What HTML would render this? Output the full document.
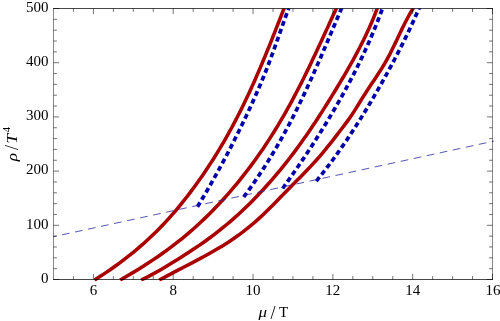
<!DOCTYPE html>
<html><head><meta charset="utf-8"><style>
html,body{margin:0;padding:0;background:#fff;overflow:hidden;width:500px;height:321px}
svg{display:block;will-change:transform}
text{font-family:"Liberation Serif",serif;font-size:15px;fill:#000}
.r{fill:none;stroke:#aa0000;stroke-width:3.55;stroke-linejoin:round}
.b{fill:none;stroke:#0000aa;stroke-width:3.7;stroke-dasharray:5 3.35}
</style></head><body>
<svg width="500" height="321" viewBox="0 0 500 321">
<rect width="500" height="321" fill="#fff"/>
<defs><clipPath id="c"><rect x="53.5" y="8.5" width="439.0" height="273.0"/></clipPath></defs>
<g clip-path="url(#c)">
<path class="r" d="M285.59,4.50 L284.02,8.50 L282.68,11.94 L281.34,15.37 L280.00,18.81 L278.65,22.25 L277.30,25.68 L275.95,29.12 L274.60,32.56 L273.23,35.99 L271.87,39.43 L270.49,42.87 L269.11,46.30 L267.72,49.74 L266.31,53.18 L264.90,56.61 L263.47,60.05 L262.04,63.49 L260.58,66.92 L259.12,70.36 L257.64,73.80 L256.14,77.23 L254.62,80.67 L253.09,84.11 L251.54,87.54 L249.97,90.98 L248.37,94.42 L246.76,97.85 L245.12,101.29 L243.46,104.73 L241.77,108.16 L240.06,111.60 L238.32,115.04 L236.55,118.47 L234.76,121.91 L232.94,125.35 L231.09,128.78 L229.20,132.22 L227.29,135.66 L225.34,139.09 L223.36,142.53 L221.34,145.97 L219.29,149.41 L217.20,152.84 L215.07,156.28 L212.91,159.72 L210.70,163.15 L208.46,166.59 L206.18,170.03 L203.85,173.46 L201.48,176.90 L199.07,180.34 L196.61,183.77 L194.11,187.21 L191.56,190.65 L188.96,194.08 L186.32,197.52 L183.61,200.96 L180.85,204.39 L178.02,207.83 L175.12,211.27 L172.15,214.70 L169.09,218.14 L165.95,221.58 L162.71,225.01 L159.39,228.45 L155.96,231.89 L152.42,235.32 L148.78,238.76 L145.02,242.20 L141.14,245.63 L137.13,249.07 L132.99,252.51 L128.72,255.94 L124.31,259.38 L119.75,262.82 L115.04,266.25 L110.17,269.69 L105.15,273.13 L99.95,276.56 L94.59,280.00"/>
<path class="r" d="M338.18,4.50 L336.33,8.50 L334.74,11.94 L333.15,15.37 L331.56,18.81 L329.98,22.25 L328.41,25.68 L326.83,29.12 L325.25,32.56 L323.67,35.99 L322.09,39.43 L320.50,42.87 L318.91,46.30 L317.31,49.74 L315.70,53.18 L314.09,56.61 L312.46,60.05 L310.82,63.49 L309.17,66.92 L307.51,70.36 L305.83,73.80 L304.13,77.23 L302.42,80.67 L300.69,84.11 L298.93,87.54 L297.16,90.98 L295.36,94.42 L293.54,97.85 L291.70,101.29 L289.83,104.73 L287.93,108.16 L286.00,111.60 L284.04,115.04 L282.05,118.47 L280.03,121.91 L277.98,125.35 L275.89,128.78 L273.76,132.22 L271.60,135.66 L269.40,139.09 L267.16,142.53 L264.88,145.97 L262.56,149.41 L260.19,152.84 L257.78,156.28 L255.32,159.72 L252.82,163.15 L250.26,166.59 L247.66,170.03 L245.01,173.46 L242.31,176.90 L239.55,180.34 L236.74,183.77 L233.87,187.21 L230.95,190.65 L227.97,194.08 L224.92,197.52 L221.81,200.96 L218.62,204.39 L215.36,207.83 L212.02,211.27 L208.59,214.70 L205.06,218.14 L201.44,221.58 L197.72,225.01 L193.88,228.45 L189.94,231.89 L185.88,235.32 L181.70,238.76 L177.39,242.20 L172.95,245.63 L168.37,249.07 L163.65,252.51 L158.78,255.94 L153.76,259.38 L148.59,262.82 L143.25,266.25 L137.74,269.69 L132.07,273.13 L126.21,276.56 L120.18,280.00"/>
<path class="r" d="M378.69,4.50 L377.19,8.50 L375.89,11.94 L374.55,15.37 L373.15,18.81 L371.71,22.25 L370.21,25.68 L368.68,29.12 L367.09,32.56 L365.47,35.99 L363.80,39.43 L362.09,42.87 L360.35,46.30 L358.56,49.74 L356.75,53.18 L354.90,56.61 L353.02,60.05 L351.11,63.49 L349.17,66.92 L347.21,70.36 L345.22,73.80 L343.20,77.23 L341.17,80.67 L339.11,84.11 L337.04,87.54 L334.95,90.98 L332.85,94.42 L330.73,97.85 L328.60,101.29 L326.45,104.73 L324.29,108.16 L322.10,111.60 L319.90,115.04 L317.67,118.47 L315.42,121.91 L313.14,125.35 L310.83,128.78 L308.49,132.22 L306.12,135.66 L303.71,139.09 L301.26,142.53 L298.78,145.97 L296.26,149.41 L293.70,152.84 L291.09,156.28 L288.44,159.72 L285.73,163.15 L282.98,166.59 L280.18,170.03 L277.32,173.46 L274.41,176.90 L271.44,180.34 L268.41,183.77 L265.32,187.21 L262.17,190.65 L258.95,194.08 L255.67,197.52 L252.30,200.96 L248.86,204.39 L245.33,207.83 L241.70,211.27 L237.97,214.70 L234.13,218.14 L230.18,221.58 L226.11,225.01 L221.91,228.45 L217.58,231.89 L213.11,235.32 L208.49,238.76 L203.72,242.20 L198.79,245.63 L193.70,249.07 L188.44,252.51 L183.04,255.94 L177.60,259.38 L172.12,262.82 L166.52,266.25 L160.71,269.69 L154.60,273.13 L148.11,276.56 L141.15,280.00"/>
<path class="r" d="M415.38,4.50 L413.00,8.50 L410.95,11.94 L409.00,15.37 L407.14,18.81 L405.34,22.25 L403.61,25.68 L401.93,29.12 L400.28,32.56 L398.64,35.99 L397.02,39.43 L395.38,42.87 L393.73,46.30 L392.04,49.74 L390.31,53.18 L388.51,56.61 L386.64,60.05 L384.69,63.49 L382.64,66.92 L380.50,70.36 L378.29,73.80 L376.03,77.23 L373.74,80.67 L371.44,84.11 L369.14,87.54 L366.87,90.98 L364.64,94.42 L362.47,97.85 L360.35,101.29 L358.25,104.73 L356.13,108.16 L353.97,111.60 L351.72,115.04 L349.35,118.47 L346.86,121.91 L344.28,125.35 L341.66,128.78 L339.04,132.22 L336.40,135.66 L333.75,139.09 L331.05,142.53 L328.32,145.97 L325.53,149.41 L322.68,152.84 L319.75,156.28 L316.73,159.72 L313.63,163.15 L310.43,166.59 L307.17,170.03 L303.86,173.46 L300.50,176.90 L297.11,180.34 L293.71,183.77 L290.31,187.21 L286.92,190.65 L283.56,194.08 L280.22,197.52 L276.88,200.96 L273.51,204.39 L270.10,207.83 L266.61,211.27 L263.03,214.70 L259.33,218.14 L255.50,221.58 L251.50,225.01 L247.31,228.45 L242.92,231.89 L238.30,235.32 L233.43,238.76 L228.28,242.20 L222.83,245.63 L217.09,249.07 L211.11,252.51 L204.91,255.94 L198.56,259.38 L192.08,262.82 L185.51,266.25 L178.91,269.69 L172.31,273.13 L165.76,276.56 L159.29,280.00"/>
<path class="b" d="M197.44,206.80 L198.96,204.29 L200.47,201.78 L201.97,199.27 L203.46,196.76 L204.93,194.25 L206.40,191.74 L207.85,189.23 L209.30,186.72 L210.73,184.21 L212.16,181.70 L213.57,179.19 L214.98,176.68 L216.37,174.17 L217.76,171.66 L219.13,169.15 L220.50,166.64 L221.86,164.13 L223.20,161.62 L224.54,159.11 L225.87,156.60 L227.19,154.09 L228.50,151.58 L229.81,149.07 L231.10,146.56 L232.39,144.05 L233.66,141.54 L234.93,139.03 L236.19,136.52 L237.45,134.01 L238.69,131.50 L239.93,128.99 L241.15,126.48 L242.38,123.97 L243.59,121.46 L244.79,118.95 L245.99,116.44 L247.17,113.93 L248.35,111.42 L249.52,108.91 L250.68,106.39 L251.83,103.88 L252.96,101.37 L254.09,98.86 L255.21,96.35 L256.32,93.84 L257.42,91.33 L258.51,88.82 L259.58,86.31 L260.64,83.80 L261.70,81.29 L262.74,78.78 L263.77,76.27 L264.78,73.76 L265.79,71.25 L266.78,68.74 L267.76,66.23 L268.72,63.72 L269.68,61.21 L270.62,58.70 L271.55,56.19 L272.47,53.68 L273.38,51.17 L274.28,48.66 L275.18,46.15 L276.07,43.64 L276.96,41.13 L277.84,38.62 L278.73,36.11 L279.61,33.60 L280.49,31.09 L281.37,28.58 L282.25,26.07 L283.14,23.56 L284.03,21.05 L284.92,18.54 L285.83,16.03 L286.74,13.52 L287.66,11.01 L288.58,8.50 L290.06,4.50"/>
<path class="b" d="M243.71,197.00 L245.47,194.61 L247.22,192.23 L248.94,189.84 L250.64,187.46 L252.33,185.07 L253.99,182.68 L255.63,180.30 L257.25,177.91 L258.85,175.53 L260.44,173.14 L262.00,170.75 L263.55,168.37 L265.08,165.98 L266.59,163.59 L268.08,161.21 L269.56,158.82 L271.01,156.44 L272.46,154.05 L273.88,151.66 L275.29,149.28 L276.69,146.89 L278.06,144.51 L279.43,142.12 L280.78,139.73 L282.11,137.35 L283.43,134.96 L284.74,132.58 L286.03,130.19 L287.31,127.80 L288.58,125.42 L289.84,123.03 L291.08,120.65 L292.31,118.26 L293.53,115.87 L294.74,113.49 L295.94,111.10 L297.12,108.72 L298.30,106.33 L299.46,103.94 L300.62,101.56 L301.77,99.17 L302.91,96.78 L304.04,94.40 L305.16,92.01 L306.27,89.63 L307.37,87.24 L308.47,84.85 L309.56,82.47 L310.64,80.08 L311.72,77.70 L312.79,75.31 L313.86,72.92 L314.91,70.54 L315.97,68.15 L317.02,65.77 L318.06,63.38 L319.10,60.99 L320.13,58.61 L321.17,56.22 L322.19,53.84 L323.22,51.45 L324.24,49.06 L325.26,46.68 L326.28,44.29 L327.29,41.91 L328.31,39.52 L329.32,37.13 L330.33,34.75 L331.34,32.36 L332.35,29.97 L333.36,27.59 L334.37,25.20 L335.39,22.82 L336.40,20.43 L337.41,18.04 L338.43,15.66 L339.44,13.27 L340.46,10.89 L341.49,8.50 L343.20,4.50"/>
<path class="b" d="M282.62,188.50 L284.26,186.22 L285.88,183.94 L287.50,181.66 L289.11,179.39 L290.71,177.11 L292.30,174.83 L293.89,172.55 L295.46,170.27 L297.03,167.99 L298.59,165.72 L300.14,163.44 L301.69,161.16 L303.22,158.88 L304.75,156.60 L306.27,154.32 L307.78,152.04 L309.28,149.77 L310.77,147.49 L312.25,145.21 L313.73,142.93 L315.19,140.65 L316.65,138.37 L318.09,136.09 L319.53,133.82 L320.96,131.54 L322.38,129.26 L323.78,126.98 L325.18,124.70 L326.57,122.42 L327.95,120.15 L329.33,117.87 L330.69,115.59 L332.04,113.31 L333.38,111.03 L334.71,108.75 L336.03,106.47 L337.34,104.20 L338.64,101.92 L339.93,99.64 L341.21,97.36 L342.48,95.08 L343.74,92.80 L344.99,90.53 L346.23,88.25 L347.46,85.97 L348.68,83.69 L349.88,81.41 L351.08,79.13 L352.26,76.85 L353.44,74.58 L354.60,72.30 L355.75,70.02 L356.89,67.74 L358.02,65.46 L359.14,63.18 L360.25,60.91 L361.34,58.63 L362.43,56.35 L363.50,54.07 L364.56,51.79 L365.61,49.51 L366.65,47.23 L367.67,44.96 L368.69,42.68 L369.69,40.40 L370.68,38.12 L371.65,35.84 L372.62,33.56 L373.57,31.28 L374.51,29.01 L375.44,26.73 L376.36,24.45 L377.26,22.17 L378.15,19.89 L379.03,17.61 L379.90,15.34 L380.75,13.06 L381.59,10.78 L382.42,8.50 L383.87,4.50"/>
<path class="b" d="M316.33,181.10 L318.09,178.92 L319.84,176.73 L321.57,174.55 L323.28,172.36 L324.98,170.18 L326.65,167.99 L328.31,165.81 L329.96,163.62 L331.58,161.44 L333.19,159.25 L334.79,157.07 L336.37,154.88 L337.93,152.70 L339.48,150.51 L341.02,148.33 L342.54,146.14 L344.05,143.96 L345.54,141.77 L347.02,139.59 L348.49,137.40 L349.94,135.22 L351.39,133.03 L352.82,130.85 L354.24,128.66 L355.64,126.48 L357.04,124.29 L358.42,122.11 L359.80,119.93 L361.16,117.74 L362.52,115.56 L363.86,113.37 L365.20,111.19 L366.52,109.00 L367.84,106.82 L369.15,104.63 L370.45,102.45 L371.74,100.26 L373.03,98.08 L374.30,95.89 L375.57,93.71 L376.84,91.52 L378.09,89.34 L379.34,87.15 L380.59,84.97 L381.82,82.78 L383.05,80.60 L384.27,78.41 L385.48,76.23 L386.69,74.04 L387.88,71.86 L389.07,69.67 L390.25,67.49 L391.43,65.31 L392.59,63.12 L393.75,60.94 L394.90,58.75 L396.05,56.57 L397.18,54.38 L398.31,52.20 L399.42,50.01 L400.53,47.83 L401.63,45.64 L402.73,43.46 L403.81,41.27 L404.89,39.09 L405.95,36.90 L407.01,34.72 L408.06,32.53 L409.10,30.35 L410.14,28.16 L411.16,25.98 L412.17,23.79 L413.18,21.61 L414.17,19.42 L415.16,17.24 L416.14,15.05 L417.11,12.87 L418.07,10.68 L419.02,8.50 L420.76,4.50"/>
</g>
<path d="M53.5,236.7 L494.0,141.1" fill="none" stroke="#2a2a9a" stroke-width="0.8" stroke-dasharray="7.7 5.63" stroke-dashoffset="4.63"/>
<path d="M53.0,8.5H493.0M53.0,279.5H493.0" fill="none" stroke="#000" stroke-width="0.72"/>
<path d="M53.5,8.5V279.5M492.5,8.5V279.5" fill="none" stroke="#000" stroke-width="0.47"/>
<path d="M73.45,279.5v-3.4M73.45,8.5v3.4M93.41,279.5v-5.6M93.41,8.5v5.6M113.36,279.5v-3.4M113.36,8.5v3.4M133.32,279.5v-3.4M133.32,8.5v3.4M153.27,279.5v-3.4M153.27,8.5v3.4M173.23,279.5v-5.6M173.23,8.5v5.6M193.18,279.5v-3.4M193.18,8.5v3.4M213.14,279.5v-3.4M213.14,8.5v3.4M233.09,279.5v-3.4M233.09,8.5v3.4M253.05,279.5v-5.6M253.05,8.5v5.6M273.00,279.5v-3.4M273.00,8.5v3.4M292.95,279.5v-3.4M292.95,8.5v3.4M312.91,279.5v-3.4M312.91,8.5v3.4M332.86,279.5v-5.6M332.86,8.5v5.6M352.82,279.5v-3.4M352.82,8.5v3.4M372.77,279.5v-3.4M372.77,8.5v3.4M392.73,279.5v-3.4M392.73,8.5v3.4M412.68,279.5v-5.6M412.68,8.5v5.6M432.64,279.5v-3.4M432.64,8.5v3.4M452.59,279.5v-3.4M452.59,8.5v3.4M472.55,279.5v-3.4M472.55,8.5v3.4M492.50,279.5v-5.6M492.50,8.5v5.6M53.5,279.50h5.6M492.5,279.50h-5.6M53.5,268.66h3.4M492.5,268.66h-3.4M53.5,257.82h3.4M492.5,257.82h-3.4M53.5,246.98h3.4M492.5,246.98h-3.4M53.5,236.14h3.4M492.5,236.14h-3.4M53.5,225.30h5.6M492.5,225.30h-5.6M53.5,214.46h3.4M492.5,214.46h-3.4M53.5,203.62h3.4M492.5,203.62h-3.4M53.5,192.78h3.4M492.5,192.78h-3.4M53.5,181.94h3.4M492.5,181.94h-3.4M53.5,171.10h5.6M492.5,171.10h-5.6M53.5,160.26h3.4M492.5,160.26h-3.4M53.5,149.42h3.4M492.5,149.42h-3.4M53.5,138.58h3.4M492.5,138.58h-3.4M53.5,127.74h3.4M492.5,127.74h-3.4M53.5,116.90h5.6M492.5,116.90h-5.6M53.5,106.06h3.4M492.5,106.06h-3.4M53.5,95.22h3.4M492.5,95.22h-3.4M53.5,84.38h3.4M492.5,84.38h-3.4M53.5,73.54h3.4M492.5,73.54h-3.4M53.5,62.70h5.6M492.5,62.70h-5.6M53.5,51.86h3.4M492.5,51.86h-3.4M53.5,41.02h3.4M492.5,41.02h-3.4M53.5,30.18h3.4M492.5,30.18h-3.4M53.5,19.34h3.4M492.5,19.34h-3.4M53.5,8.50h5.6M492.5,8.50h-5.6" fill="none" stroke="#000" stroke-width="0.55"/>
<text x="93.41" y="295" text-anchor="middle">6</text>
<text x="173.23" y="295" text-anchor="middle">8</text>
<text x="253.05" y="295" text-anchor="middle">10</text>
<text x="332.86" y="295" text-anchor="middle">12</text>
<text x="412.68" y="295" text-anchor="middle">14</text>
<text x="493.10" y="295" text-anchor="middle">16</text>
<text x="48.6" y="282.75" text-anchor="end">0</text>
<text x="48.6" y="228.55" text-anchor="end">100</text>
<text x="48.6" y="174.35" text-anchor="end">200</text>
<text x="48.6" y="120.15" text-anchor="end">300</text>
<text x="48.6" y="65.95" text-anchor="end">400</text>
<text x="48.6" y="11.75" text-anchor="end">500</text>
<text transform="translate(258.4,317) scale(1.13,1)" font-style="italic">μ</text><text x="270.6" y="319.2" style="font-size:18px">/</text><text x="279.1" y="317">T</text>
<g transform="translate(16.6,161.3) rotate(-90)"><text transform="scale(1.15,1)" font-style="italic">ρ</text><text x="11.2" y="1.8" style="font-size:18px">/</text><text transform="translate(17.6,0) scale(1.18,1)" font-style="italic">T</text><text transform="translate(29.1,-6.9) scale(1.1,1)" style="font-size:9.6px">4</text></g>
</svg>
</body></html>
